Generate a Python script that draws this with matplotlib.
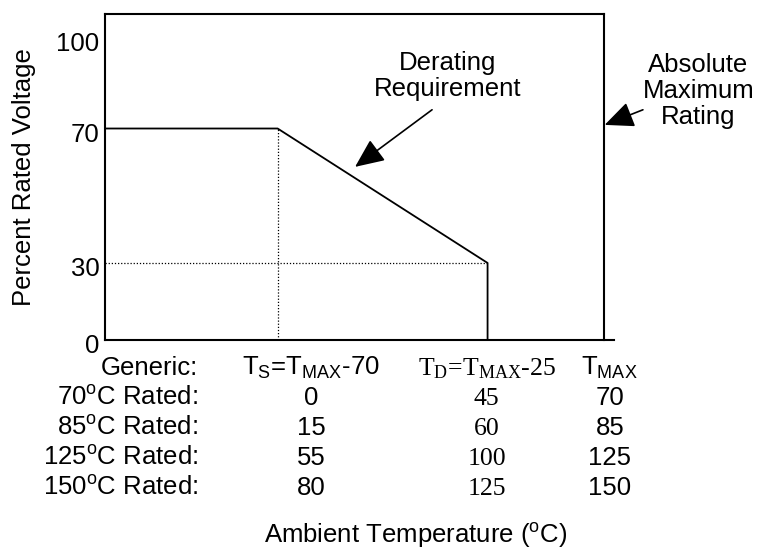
import matplotlib
matplotlib.use('Agg')
import matplotlib.pyplot as plt
from matplotlib import transforms

plt.rcParams['font.family'] = 'Liberation Sans'
plt.rcParams['mathtext.default'] = 'regular'

# y axis: labels and the heights they are drawn at (schematic)
pct_labels = ['0', '30', '70', '100']
pct_pos = [0, 25.5, 70, 100]

# temperature table (x axis is drawn in 70C-rated units)
rated = ['70', '85', '125', '150']
t_s = [0, 15, 55, 80]
t_d = [45, 60, 100, 125]
t_max = [70, 85, 125, 150]
headers = [r'T$_{S}$=T$_{MAX}$-70', r'T$_{D}$=T$_{MAX}$-25', r'T$_{MAX}$']
col_fonts = ['Liberation Sans', 'Liberation Serif', 'Liberation Sans']

W, H = 767, 551
FS = 18.5
x_lo, x_hi = -37.0, 72.1
y_top = 107.9

fig = plt.figure(figsize=(W / 100, H / 100), dpi=100)
ax = fig.add_axes([105 / W, 1 - 340 / H, (614 - 105) / W, (340 - 14) / H])
ax.set_xlim(x_lo, x_hi)
ax.set_ylim(0, y_top)
ax.spines[['top', 'right']].set_visible(False)
for s in ['left', 'bottom']:
    ax.spines[s].set_linewidth(1.5)
ax.set_xticks([])
ax.set_yticks(pct_pos)
ax.set_yticklabels(pct_labels, fontsize=FS)
ax.tick_params(axis='y', length=0, pad=4)
shift = transforms.ScaledTranslation(0, -0.035, fig.dpi_scale_trans)
for lab in ax.get_yticklabels():
    lab.set_transform(lab.get_transform() + shift)

# derating curve
ax.plot([x_lo, t_s[0], t_d[0], t_d[0]], [pct_pos[2], pct_pos[2], pct_pos[1], 0],
        color='k', lw=1.3, clip_on=False)
# box top and absolute maximum line
ax.plot([x_lo, t_max[0]], [y_top, y_top], color='k', lw=1.5, clip_on=False)
ax.plot([t_max[0], t_max[0]], [0, y_top], color='k', lw=1.5, clip_on=False)
# dotted guides
ax.plot([t_s[0], t_s[0]], [0, pct_pos[2]], color='k', lw=0.9, ls=(0, (1, 1.5)))
ax.plot([x_lo, t_d[0]], [pct_pos[1], pct_pos[1]], color='k', lw=0.9, ls=(0, (1, 1.5)))

arrow = dict(arrowstyle='-|>,head_length=0.9,head_width=0.4', color='k', lw=1.2,
             mutation_scale=20, shrinkA=0, shrinkB=0)
ax.annotate('', xy=(16.6, 57.3), xytext=(33.1, 76.2), arrowprops=arrow)
ax.text(36.5, 87.3, 'Derating\nRequirement', ha='center', va='center',
        fontsize=FS, linespacing=1.1)
ax.annotate('', xy=(70.1, 71.2), xytext=(78.3, 76.2), arrowprops=arrow,
            annotation_clip=False)
ax.text(90.2, 82.5, 'Absolute\nMaximum\nRating', ha='center', va='center',
        fontsize=FS, linespacing=1.1, clip_on=False)

# temperature table under the axis
tr = transforms.blended_transform_factory(ax.transData, fig.transFigure)
col_x = [7.2, 44.8, 71.2]
label_x = -17.1
row_px = [375 + 30 * i for i in range(len(rated) + 1)]

ax.text(label_x, 1 - row_px[0] / H, 'Generic:', transform=tr, ha='right',
        va='baseline', fontsize=FS)
for j, hdr in enumerate(headers):
    ax.text(col_x[j], 1 - row_px[0] / H, hdr, transform=tr, ha='center',
            va='baseline', fontsize=FS, family=col_fonts[j])
for i, r in enumerate(rated):
    y = 1 - row_px[i + 1] / H
    ax.text(label_x, y, r + r'$^{o}$C Rated:', transform=tr, ha='right',
            va='baseline', fontsize=FS)
    for j, v in enumerate([t_s[i], t_d[i], t_max[i]]):
        ax.text(col_x[j], y, str(v), transform=tr, ha='center', va='baseline',
                fontsize=FS, family=col_fonts[j])

fig.text(416 / W, 1 - 543 / H, r'Ambient Temperature ($^{o}$C)', ha='center',
         va='baseline', fontsize=FS)
fig.text(24 / W, 1 - 177 / H, 'Percent Rated Voltage', rotation=90,
         ha='center', va='center', fontsize=FS)

fig.savefig('out.png', dpi=100)
